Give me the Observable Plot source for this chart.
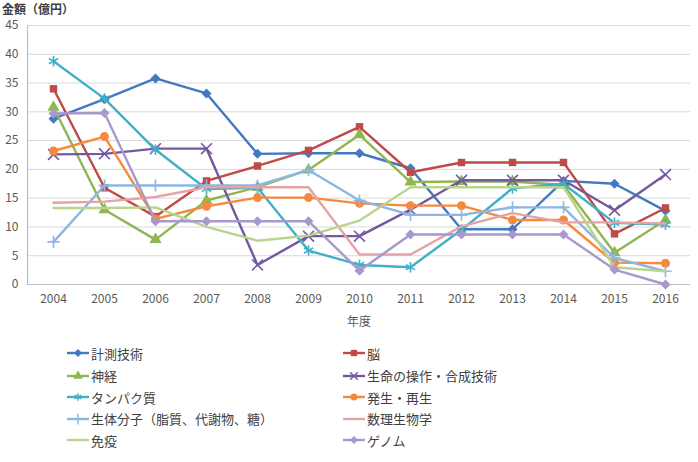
<!DOCTYPE html>
<html>
<head>
<meta charset="utf-8">
<script src="https://cdn.jsdelivr.net/npm/d3@7"></script>
<script src="https://cdn.jsdelivr.net/npm/@observablehq/plot@0.6"></script>
<style>
  html, body { margin: 0; padding: 0; background: #fff; overflow: hidden; }
  #wrap { position: relative; width: 698px; height: 462px; font-family: "Noto Sans CJK JP", "Noto Sans", sans-serif; }
  #title { position: absolute; left: 2px; top: 2px; font-size: 12px; line-height: 14px; font-weight: bold; color: #404040; }
  .leg { position: absolute; display: flex; align-items: center; font-size: 13px; color: #404040; white-space: nowrap; }
  .leg svg { margin-right: 2px; }
</style>
</head>
<body>
<div id="wrap">
  <div id="chart"></div>
  <div id="title">金額（億円）</div>
</div>
<script>
const years = ["2004","2005","2006","2007","2008","2009","2010","2011","2012","2013","2014","2015","2016"];
const yTicks = [0,5,10,15,20,25,30,35,40,45];
const seriesNames = ["計測技術","脳","神経","生命の操作・合成技術","タンパク質","発生・再生","生体分子（脂質、代謝物、糖）","数理生物学","免疫","ゲノム"];

const keisoku = [28.8, 32.2, 35.8, 33.2, 22.7, 22.8, 22.8, 20.2, 9.6, 9.6, 18.0, 17.5, 12.8];
const nou     = [34.0, 16.8, 11.8, 18.0, 20.6, 23.3, 27.4, 19.5, 21.2, 21.2, 21.2, 8.8, 13.3];
const shinkei = [30.8, 13.0, 7.8, 14.6, 16.9, 19.9, 26.0, 17.8, 17.9, 17.9, 17.3, 5.5, 11.2];
const seimei  = [22.6, 22.7, 23.6, 23.6, 3.4, 8.4, 8.4, 13.0, 18.1, 18.1, 18.1, 12.9, 19.1];
const tanpaku = [38.8, 32.3, 23.4, 16.6, 16.8, 5.9, 3.4, 3.0, 9.5, 16.7, 17.5, 10.7, 10.4];
const hassei  = [23.2, 25.7, 11.4, 13.6, 15.1, 15.1, 14.1, 13.7, 13.7, 11.2, 11.2, 3.8, 3.7];
const seitai  = [7.4, 17.2, 17.2, 17.2, 17.2, 19.9, 14.6, 12.1, 12.1, 13.4, 13.4, 4.6, 2.3];
const suuri   = [14.2, 14.4, 15.2, 16.9, 16.9, 16.9, 5.2, 5.2, 10.1, 12.4, 10.8, 10.8, 10.6];
const meneki  = [13.3, 13.3, 13.4, 10.0, 7.6, 8.5, 11.1, 16.9, 16.9, 16.9, 16.9, 3.0, 2.3];
const genomu  = [29.7, 29.8, 11.0, 11.0, 11.0, 11.0, 2.4, 8.7, 8.7, 8.7, 8.7, 2.6, 0.0];

const seriesValues = [keisoku, nou, shinkei, seimei, tanpaku, hassei, seitai, suuri, meneki, genomu];
const seriesColors = ["#4379BE","#BE4B48","#8FB651","#7458A0","#3FB0C8","#F58A3F","#8CB6E4","#E5A3A6","#B9D48E","#A898CB"];
const seriesSymbols = ["diamond2","square","triangle","times","asterisk","circle","plus",null,null,"diamond2"];
const seriesFilled = [true,true,true,false,false,true,false,false,false,true];

const series = seriesNames.map((name, k) => ({
  name, color: seriesColors[k], symbol: seriesSymbols[k], filled: seriesFilled[k],
  data: years.map((year, i) => ({year, value: seriesValues[k][i], name}))
}));

const marks = [
  Plot.gridY(yTicks.filter(d => d > 0), {stroke: "#d9d9d9", strokeOpacity: 1, strokeWidth: 1}),
  Plot.ruleY([0], {stroke: "#bfbfbf", strokeWidth: 1.2}),
  Plot.frame({anchor: "left", stroke: "#bfbfbf", strokeWidth: 1.2}),
  Plot.axisY(yTicks, {tickSize: 0, tickPadding: 9, fontSize: 12, label: null}),
  Plot.axisX({tickSize: 0, tickPadding: 10, fontSize: 12, label: "年度", labelAnchor: "center", labelOffset: 41, labelArrow: "none"})
];
for (const s of series) {
  marks.push(Plot.line(s.data, {x: "year", y: "value", stroke: s.color, strokeWidth: 2.4}));
  if (s.symbol) {
    const r = s.symbol === "square" ? 4.2 : 4.5;
    marks.push(Plot.dot(s.data, s.filled
      ? {x: "year", y: "value", symbol: () => s.symbol, fill: s.color, r, stroke: "none"}
      : {x: "year", y: "value", symbol: () => s.symbol, stroke: s.color, r: s.symbol === "plus" ? 4 : 5, strokeWidth: 1.6, fill: "none"}));
  }
}

const chart = Plot.plot({
  width: 698,
  height: 340,
  marginTop: 25,
  marginBottom: 56,
  marginLeft: 27,
  marginRight: 8,
  style: {fontFamily: "Noto Sans CJK JP, Noto Sans, sans-serif", fontSize: "12px", color: "#595959", background: "#fff"},
  x: {type: "point", domain: years, padding: 0.5},
  y: {domain: [0, 45]},
  symbol: {type: "identity"},
  marks
});
document.getElementById("chart").appendChild(chart);

// legend
const wrap = document.getElementById("wrap");
const rowsY = [353, 375.5, 397, 418.5, 440];
const colX = [67, 343];
series.forEach((s, k) => {
  const col = k % 2, row = Math.floor(k / 2);
  const div = document.createElement("div");
  div.className = "leg";
  div.style.left = colX[col] + "px";
  div.style.top = (rowsY[row] - 10) + "px";
  div.style.height = "20px";
  const svg = d3.create("svg").attr("width", 22).attr("height", 12);
  svg.append("line").attr("x1", 0).attr("x2", 22).attr("y1", 6).attr("y2", 6)
    .attr("stroke", s.color).attr("stroke-width", 2.4);
  if (s.symbol) {
    const symMap = {diamond2: d3.symbolDiamond2, square: d3.symbolSquare, triangle: d3.symbolTriangle,
      times: d3.symbolTimes, asterisk: d3.symbolAsterisk, circle: d3.symbolCircle, plus: d3.symbolPlus};
    const p = svg.append("path").attr("transform", "translate(11,6)")
      .attr("d", d3.symbol(symMap[s.symbol], 40)());
    if (s.filled) p.attr("fill", s.color); else p.attr("fill", "none").attr("stroke", s.color).attr("stroke-width", 1.4);
  }
  div.appendChild(svg.node());
  const span = document.createElement("span");
  span.textContent = s.name;
  div.appendChild(span);
  wrap.appendChild(div);
});
</script>
</body>
</html>
